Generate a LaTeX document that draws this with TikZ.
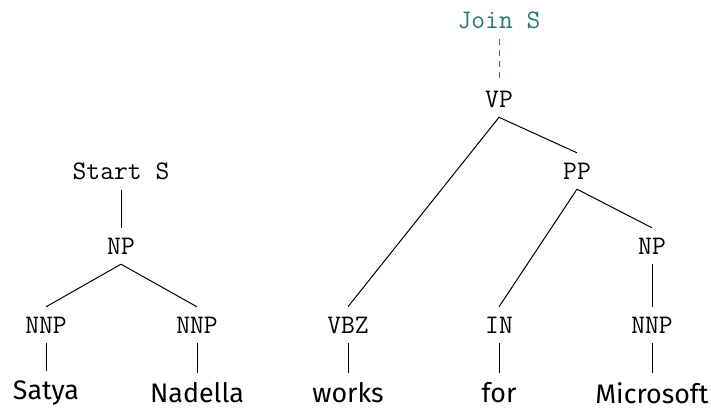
\documentclass[tikz,border=0pt]{standalone}
\usepackage{fontspec}
\setmainfont{Fira Sans}
\setmonofont{Latin Modern Mono}
\definecolor{joinc}{RGB}{38,122,112}
\begin{document}
\begin{tikzpicture}[x=0.5pt,y=-0.5pt,
  tag/.style={font=\ttfamily\fontsize{13.4}{15}\selectfont, inner xsep=2pt, inner ysep=4.8pt, anchor=center},
  word/.style={font=\fontsize{13.4}{15}\selectfont, inner xsep=2pt, inner ysep=4.5pt, anchor=center},
  edge/.style={draw=black, line width=0.5pt}]
\useasboundingbox (0,0) rectangle (711,412);
\node[tag, text=joinc] (join) at (499,20) {Join S};
\node[tag] (vp) at (499,99) {VP};
\node[tag] (start) at (121,171) {Start S};
\node[tag] (np1) at (121,246) {NP};
\node[tag] (nnp1) at (46,325) {NNP};
\node[tag] (nnp2) at (197,325) {NNP};
\node[tag] (pp) at (577,171) {PP};
\node[tag] (vbz) at (348,325) {VBZ};
\node[tag] (in) at (499,325) {IN};
\node[tag] (np2) at (652,246) {NP};
\node[tag] (nnp3) at (652,325) {NNP};
\node[word] (satya) at (46,393) {Satya};
\node[word] (nadella) at (197,393) {Nadella};
\node[word] (works) at (348,393) {works};
\node[word] (for) at (499,393) {for};
\node[word] (ms) at (652,393) {Microsoft};
\draw[edge, draw=joinc, dash pattern=on 3pt off 2.5pt] (join.south) -- (vp.north);
\draw[edge] (vp.south) -- (vbz.north);
\draw[edge] (vp.south) -- (pp.north);
\draw[edge] (start.south) -- (np1.north);
\draw[edge] (np1.south) -- (nnp1.north);
\draw[edge] (np1.south) -- (nnp2.north);
\draw[edge] (pp.south) -- (in.north);
\draw[edge] (pp.south) -- (np2.north);
\draw[edge] (np2.south) -- (nnp3.north);
\draw[edge] (nnp1.south) -- (satya.north);
\draw[edge] (nnp2.south) -- (nadella.north);
\draw[edge] (vbz.south) -- (works.north);
\draw[edge] (in.south) -- (for.north);
\draw[edge] (nnp3.south) -- (ms.north);
\end{tikzpicture}
\end{document}
